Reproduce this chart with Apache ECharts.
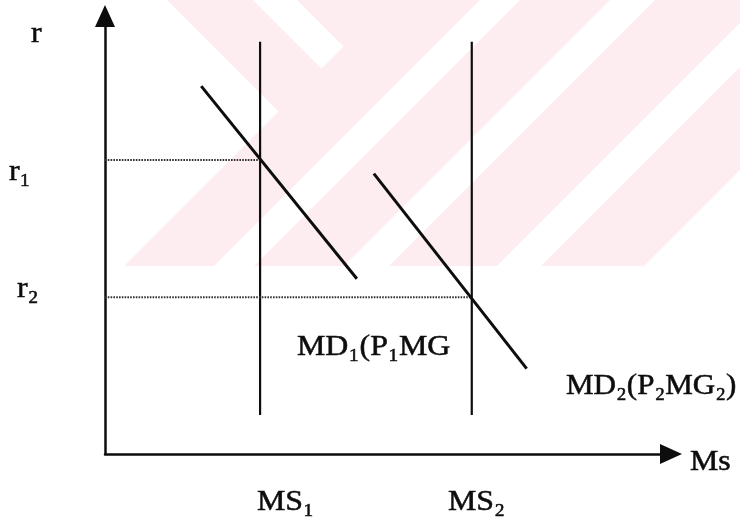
<!DOCTYPE html>
<html>
<head>
<meta charset="utf-8">
<script src="https://cdn.jsdelivr.net/npm/echarts@6/dist/echarts.min.js"></script>
<style>
  html, body { margin: 0; padding: 0; background: #ffffff; }
  #chart { width: 740px; height: 521px; }
</style>
</head>
<body>
<div id="chart"></div>
<script>
// ---- data (abstract money-market diagram) ----
const msNames = ['MS₁', 'MS₂'];
const msX = [27.4, 64.8];          // money supply positions
const msSpan = [8.9, 94.1];        // vertical extent of the supply lines
const rNames = ['r₁', 'r₂'];
const rLevels = [67.1, 35.8];      // interest rate levels
const md1 = [[17, 84], [44.5, 40]];      // MD1 demand curve end points
const md2 = [[47.5, 64], [74.5, 19.5]];  // MD2 demand curve end points
const mdNames = ['MD₁(P₁MG', 'MD₂(P₂MG₂)'];
const axisNames = ['r', 'Ms'];

const chart = echarts.init(document.getElementById('chart'), null, { renderer: 'canvas' });

const FAMILY = 'Liberation Serif';
const INK = '#0d0d0d';
const PINK = '#fdedf0';

function txt(text, left, baseline, sx) {
  return {
    type: 'text', x: left, y: baseline - 10, scaleX: sx || 1.1, z: 10,
    style: {
      text: text, fontFamily: FAMILY, fontSize: 29, fontWeight: 'normal',
      fill: INK, stroke: INK, lineWidth: 0.5,
      align: 'left', verticalAlign: 'middle'
    }
  };
}

// watermark (decorative background, pixel geometry)
const wm = [
  [[167,0],[480,0],[214,266],[124,266],[278.5,111.5]],
  [[520,0],[610,0],[344,266],[254,266]],
  [[655,0],[763,0],[497,266],[389,266]],
  [[807,0],[910,0],[644,266],[541,266]]
];
const wmGraphics = wm.map(p => ({
  type: 'polygon', z: -5, silent: true,
  shape: { points: p }, style: { fill: PINK }
}));
wmGraphics.push({
  type: 'polygon', z: -4, silent: true,
  shape: { points: [[253,0],[297,0],[343.5,46.5],[321.5,68.5]] },
  style: { fill: '#ffffff' }
});

const series = [];
msX.forEach((x, i) => {
  series.push({
    name: msNames[i], type: 'line', symbol: 'none', silent: true,
    data: [[x, msSpan[0]], [x, msSpan[1]]],
    lineStyle: { color: INK, width: 2.2 }
  });
  series.push({
    name: rNames[i], type: 'line', symbol: 'none', silent: true,
    data: [[0, rLevels[i]], [x, rLevels[i]]],
    lineStyle: { color: '#333333', width: 2, type: [1.6, 1.2] }
  });
});
[md1, md2].forEach((d, i) => {
  series.push({
    name: mdNames[i], type: 'line', symbol: 'none', silent: true,
    data: d, lineStyle: { color: INK, width: 3 }
  });
});

chart.setOption({
  backgroundColor: '#ffffff',
  animation: false,
  grid: { left: 105, right: 69, top: 16, bottom: 67 },
  xAxis: {
    type: 'value', min: 0, max: 100,
    splitLine: { show: false }, axisTick: { show: false }, axisLabel: { show: false },
    axisLine: { show: true, onZero: false, symbol: ['none', 'triangle'], symbolSize: [20, 22],
      lineStyle: { color: INK, width: 2.5 } }
  },
  yAxis: {
    type: 'value', min: 0, max: 100,
    splitLine: { show: false }, axisTick: { show: false }, axisLabel: { show: false },
    axisLine: { show: true, onZero: false, symbol: ['none', 'triangle'], symbolSize: [20, 22],
      lineStyle: { color: INK, width: 2.5 } }
  },
  series: series,
  graphic: wmGraphics.concat([
    txt(axisNames[0], 31, 44),
    txt(rNames[0], 9, 182),
    txt(rNames[1], 17, 299),
    txt(mdNames[0], 297, 357),
    txt(mdNames[1], 566, 396, 1.07),
    txt(msNames[0], 257, 512),
    txt(msNames[1], 448, 512),
    txt(axisNames[1], 690, 472)
  ])
});
</script>
</body>
</html>
